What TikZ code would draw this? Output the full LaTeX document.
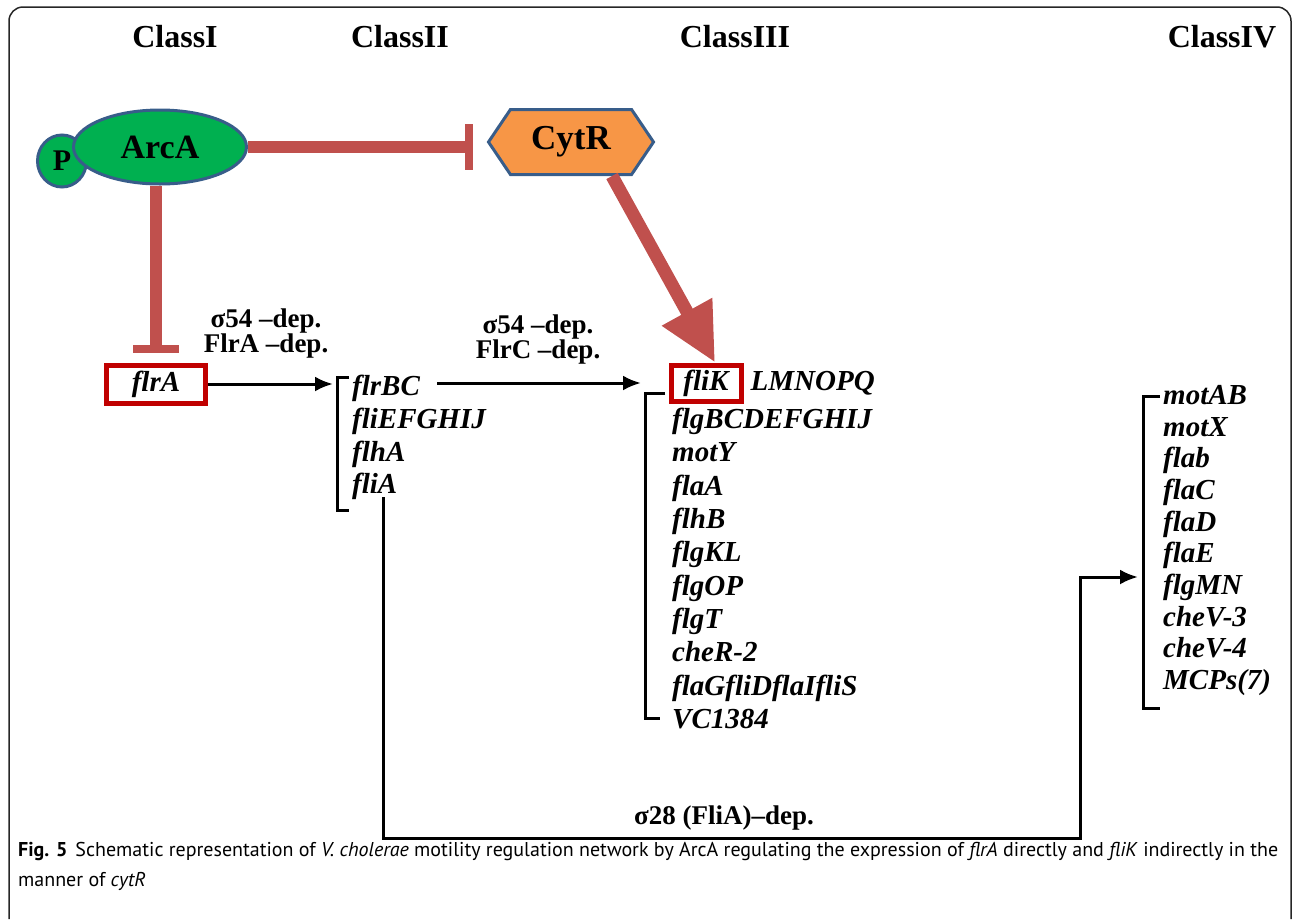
\documentclass[tikz,border=0pt]{standalone}
\usepackage{fontspec}
\setmainfont{Liberation Serif}
\newfontfamily\capfont{PT Sans}
\usetikzlibrary{arrows.meta,shapes.geometric,shapes.symbols,positioning}

\definecolor{inhred}{HTML}{C0504D}
\definecolor{boxred}{HTML}{C00000}
\definecolor{protgreen}{HTML}{00B050}
\definecolor{protorange}{HTML}{F79646}
\definecolor{protline}{HTML}{385D8A}

\tikzset{
  classlabel/.style={font=\fontsize{32}{36}\selectfont\bfseries},
  protein/.style={draw=protline, line width=3pt, inner sep=2pt},
  gene/.style={font=\fontsize{29}{33}\selectfont\bfseries\itshape, inner sep=0pt},
  genebox/.style={gene, draw=boxred, line width=5pt},
  deplabel/.style={font=\fontsize{27}{25}\selectfont\bfseries, align=center},
  inhibit/.style={draw=inhred, line width=12pt, -{Rectangle[length=8pt,width=46pt]}},
  activate/.style={line width=3pt, -{Latex[length=18pt,width=15pt]}},
  bracket/.style={line width=3pt},
}

\begin{document}
\begin{tikzpicture}[x=1pt, y=-1pt]
	\useasboundingbox (0,0) rectangle (1292,919);
	\draw[rounded corners=14pt, line width=1.5pt, black!85] (9,919) -- (9,7) -- (1291,7) -- (1291,919);
	% class headings
	\node[classlabel] (cls1) at (175,37) {ClassI};
	\node[classlabel] (cls2) at (400,37) {ClassII};
	\node[classlabel] (cls3) at (735,37) {ClassIII};
	\node[classlabel] (cls4) at (1222,37) {ClassIV};
	% regulators
	\node[protein, ellipse, fill=protgreen, minimum width=49pt, minimum height=52pt, font=\fontsize{30}{32}\selectfont\bfseries] (P) at (62,161) {P};
	\node[protein, ellipse, fill=protgreen, minimum width=173pt, minimum height=74pt, font=\fontsize{34}{36}\selectfont\bfseries] (ArcA) at (160,147) {ArcA};
	\node[protein, signal, signal to=east and west, signal pointer angle=112, fill=protorange, minimum width=165pt, minimum height=65pt, font=\fontsize{35}{36}\selectfont\bfseries] (CytR) at (571,142) {CytR};
	% genes
	\node[genebox, minimum width=99pt, minimum height=38pt] (flrA) at (156,384) {flrA};
	\node[gene, anchor=north west, align=left, font=\fontsize{29}{32.7}\selectfont\bfseries\itshape] (c2) at (352,375) {flrBC\\fliEFGHIJ\\flhA\\fliA};
	\node[genebox, minimum width=70pt, minimum height=36pt] (fliK) at (706,383) {fliK};
	\node[gene, anchor=base west] (LMN) at ([xshift=7pt]fliK.base east) {LMNOPQ};
	\node[gene, anchor=north west, align=left, font=\fontsize{29}{33.3}\selectfont\bfseries\itshape] (c3) at (672,408) {flgBCDEFGHIJ\\motY\\flaA\\flhB\\flgKL\\flgOP\\flgT\\cheR-2\\flaGfliDflaIfliS\\VC1384};
	\node[gene, anchor=north west, align=left, font=\fontsize{29}{31.7}\selectfont\bfseries\itshape] (c4) at (1163,385) {motAB\\motX\\flab\\flaC\\flaD\\flaE\\flgMN\\cheV-3\\cheV-4\\MCPs(7)};
	% brackets
	\draw[bracket] (349,377) -- (337,377) -- (337,510) -- (349,510);
	\draw[bracket] (665,393) -- (645,393) -- (645,718) -- (660,718);
	\draw[bracket] (1160,396) -- (1143,396) -- (1143,708) -- (1160,708);
	% dependence labels
	\node[deplabel] (dep1) at (266,333) {σ54 –dep.\\FlrA –dep.};
	\node[deplabel] (dep2) at (538,339) {σ54 –dep.\\FlrC –dep.};
	\node[deplabel] (dep3) at (724,818) {σ28 (FliA)–dep.};
	% connectors
	\coordinate (c2in) at (333,381);
	\coordinate (c2out) at (437,383);
	\coordinate (c3in) at (641,383);
	\coordinate (fliAend) at (383,497);
	\coordinate (c4turn) at (1080,838);
	\coordinate (c4in) at (1138,577);
	\draw[inhibit, shorten >=14pt] (ArcA.east) -- (ArcA.east -| CytR.west);
	\draw[inhibit, shorten >=10pt] (flrA.north |- ArcA.south) -- (flrA.north);
	\draw[inhred, line width=13pt, -{Triangle[length=58pt,width=54pt]}] ([xshift=41pt]CytR.south) -- ([xshift=9pt]fliK.north);
	\draw[activate] (flrA.east) -- (flrA.east -| c2in);
	\draw[activate] (c2out) -- (c3in);
	\draw[activate] (fliAend) |- (c4turn) |- (c4in);
	% caption
	\node[anchor=north west, inner sep=0pt, align=left, font=\capfont\fontsize{20}{30}\selectfont] (caption) at (18,842) {\textbf{Fig. 5}\hspace{8pt}Schematic representation of \textit{V. cholerae} motility regulation network by ArcA regulating the expression of \textit{flrA} directly and \textit{fliK} indirectly in the\\manner of \textit{cytR}};
\end{tikzpicture}
\end{document}
